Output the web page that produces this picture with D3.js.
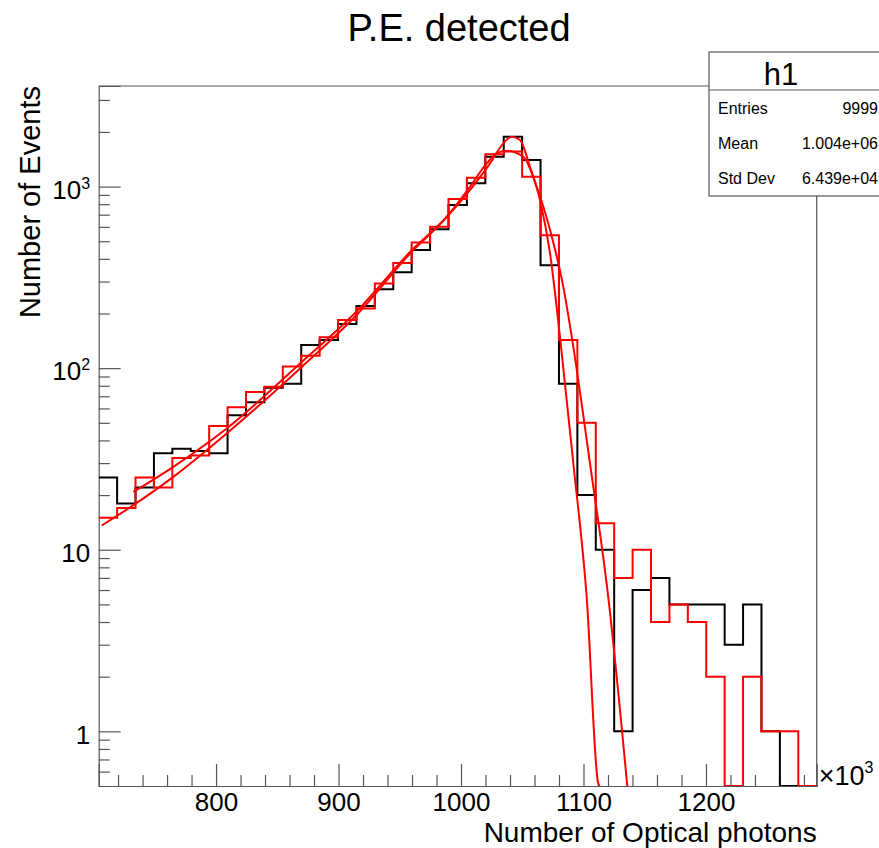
<!DOCTYPE html>
<html>
<head>
<meta charset="utf-8">
<script src="https://cdn.jsdelivr.net/npm/d3@7"></script>
<style>
  body { margin: 0; background: #fff; }
  svg { display: block; font-family: "Liberation Sans", Arial, Helvetica, sans-serif; }
</style>
</head>
<body>
<div id="chart"></div>
<script>
// --------------------------------------
//  Data (x in units of 10^3 photons)
// --------------------------------------

const xMin = 704.2;
const xMax = 1290.4;
const nBins = 39;

const blackCounts = [25, 18, 22, 34, 36, 35, 34, 55, 65, 78, 82, 134, 143, 175, 220, 272, 337, 447, 583, 791,
  1042, 1459, 1880, 1400, 369, 82, 20, 10, 1, 6, 7, 5, 5, 5, 3, 5, 1, 0, 0];
const redCounts = [15, 17, 25, 22, 32, 33, 48, 61, 74, 79, 102, 117, 148, 184, 213, 293, 380, 492, 601, 853,
  1120, 1507, 1560, 1132, 540, 143, 50, 14, 7, 10, 4, 5, 4, 2, 0, 2, 1, 1, 0];

// fit curves, points
const fitAx = [706.7, 732.5, 765.1, 808.7, 868.6, 915.9, 958.4, 988.3, 1007.3, 1021.0, 1029.1, 1037.3,
  1050.9, 1061.8, 1072.7, 1083.5, 1090.4, 1105.3, 1120.2, 1136.0];
const fitAy = [13.6, 17.6, 25.2, 43.7, 99.6, 200, 428, 682, 998, 1342, 1524, 1575,
  1459, 998, 576, 281, 149, 29.9, 5.5, 0.48];

const fitBx = [732.5, 765.1, 808.7, 868.6, 915.9, 958.4, 988.3, 1007.3, 1023.7, 1034.5, 1041.4, 1048.2,
  1056.3, 1064.5, 1072.7, 1080.8, 1091.7, 1102.6, 1112.1, 1118.0];
const fitBy = [20.8, 28.6, 46.5, 106, 209, 436, 679, 957, 1342, 1730, 1881, 1804,
  1285, 843, 428, 149, 29.9, 5.5, 0.515, 0.45];

const xMajorTicks = [800, 900, 1000, 1100, 1200];
const yMajorTicks = [1, 10, 100, 1000];
const yMin = 0.5;
const yMax = 3580;

const statsTitle = "h1";
const statsLabels = ["Entries", "Mean", "Std Dev"];
const statsValues = ["9999", "1.004e+06", "6.439e+04"];

// --------------------------------------
//  Margin and canvas
// --------------------------------------

const width = 879;
const height = 848;
const margin = {top: 86, right: 62.3, bottom: 62, left: 98.7};
const innerwidth = width - margin.left - margin.right;
const innerheight = height - margin.top - margin.bottom;

const svg = d3.select("#chart")
  .append("svg")
    .attr("width", width)
    .attr("height", height);

svg.append("rect").attr("width", width).attr("height", height).attr("fill", "#fff");

const innerChart = svg
  .append("g")
    .attr("transform", `translate(${margin.left}, ${margin.top})`);

svg.append("defs").append("clipPath")
    .attr("id", "frame-clip")
  .append("rect")
    .attr("width", innerwidth)
    .attr("height", innerheight);

// --------------------------------------
//  Scales
// --------------------------------------

const x = d3.scaleLinear()
    .domain([xMin, xMax])
    .range([0, innerwidth]);

const y = d3.scaleLog()
    .domain([yMin, yMax])
    .range([innerheight, 0]);

const binWidth = (xMax - xMin) / nBins;
const yc = v => v > yMin ? y(v) : y(yMin);

// --------------------------------------
//  Axes
// --------------------------------------

const axisColor = "#555";

const xMinorTicks = d3.range(720, xMax, 20).filter(v => !xMajorTicks.includes(v));
const yMinorTicks = [0.6, 0.7, 0.8, 0.9]
  .concat(d3.range(2, 10), d3.range(20, 100, 10), d3.range(200, 1000, 100), [2000, 3000]);

innerChart.append("g")
    .attr("class", "x-axis")
    .attr("transform", `translate(0, ${innerheight})`)
    .call(d3.axisBottom(x)
      .tickValues(xMajorTicks)
      .tickSize(-22)
      .tickPadding(7)
      .tickFormat(d3.format("d")));

innerChart.append("g")
    .attr("transform", `translate(0, ${innerheight})`)
    .call(d3.axisBottom(x)
      .tickValues(xMinorTicks)
      .tickSize(-11)
      .tickFormat(""))
    .call(g => g.select(".domain").remove());

const yAxis = innerChart.append("g")
    .attr("class", "y-axis")
    .call(d3.axisLeft(y)
      .tickValues(yMajorTicks)
      .tickSize(-22)
      .tickPadding(8)
      .tickFormat(d => d >= 100 ? "10" : String(d)));

innerChart.append("g")
    .call(d3.axisLeft(y)
      .tickValues(yMinorTicks)
      .tickSize(-11)
      .tickFormat(""))
    .call(g => g.select(".domain").remove());

// superscripts for 10^2, 10^3
yAxis.selectAll(".tick text")
    .attr("x", -8.5)
    .attr("dy", "0.45em")
    .each(function(d) {
      if (d >= 100) {
        d3.select(this).append("tspan")
          .attr("dy", "-0.62em")
          .attr("font-size", 16)
          .text(Math.round(Math.log10(d)));
      }
    });

innerChart.selectAll(".x-axis, .y-axis")
    .attr("font-size", 26)
    .attr("font-family", null);
innerChart.selectAll(".tick text").attr("fill", "#000");
innerChart.selectAll(".tick line, .domain").attr("stroke", axisColor).attr("stroke-width", 1.2);

// frame top and right
innerChart.append("path")
    .attr("d", `M0,0H${innerwidth}V${innerheight}`)
    .attr("fill", "none")
    .attr("stroke", axisColor)
    .attr("stroke-width", 1.2);

// --------------------------------------
//  Data drawing
// --------------------------------------

const plot = innerChart.append("g").attr("clip-path", "url(#frame-clip)");

const stepLine = d3.line()
    .x(d => x(d[0]))
    .y(d => yc(d[1]))
    .curve(d3.curveStepAfter);

const stepPoints = counts => counts
  .map((c, i) => [xMin + i * binWidth, c])
  .concat([[xMax, counts[counts.length - 1]]]);

plot.append("path")
    .attr("d", stepLine(stepPoints(blackCounts)))
    .attr("fill", "none")
    .attr("stroke", "#000")
    .attr("stroke-width", 2);

plot.append("path")
    .attr("d", stepLine(stepPoints(redCounts)))
    .attr("fill", "none")
    .attr("stroke", "#ff0000")
    .attr("stroke-width", 2);

const fitLine = d3.line()
    .x(d => x(d[0]))
    .y(d => y(d[1]))
    .curve(d3.curveMonotoneX);

[[fitAx, fitAy], [fitBx, fitBy]].forEach(([fx, fy]) => {
  plot.append("path")
      .attr("d", fitLine(fx.map((v, i) => [v, fy[i]])))
      .attr("fill", "none")
      .attr("stroke", "#ff0000")
      .attr("stroke-width", 2);
});

// --------------------------------------
//  Texts
// --------------------------------------

svg.append("text")
    .attr("x", 459)
    .attr("y", 41)
    .attr("text-anchor", "middle")
    .attr("font-size", 38)
    .text("P.E. detected");

svg.append("text")
    .attr("transform", `translate(40, ${margin.top}) rotate(-90)`)
    .attr("text-anchor", "end")
    .attr("font-size", 29)
    .text("Number of Events");

svg.append("text")
    .attr("x", margin.left + innerwidth)
    .attr("y", 842)
    .attr("text-anchor", "end")
    .attr("font-size", 28)
    .text("Number of Optical photons");

const expLabel = svg.append("text")
    .attr("x", margin.left + innerwidth + 2)
    .attr("y", 785)
    .attr("font-size", 27)
    .text("\u00d710");
expLabel.append("tspan")
    .attr("dy", -12)
    .attr("font-size", 16)
    .text("3");

// --------------------------------------
//  Stats box
// --------------------------------------

const stats = svg.append("g").attr("transform", "translate(709, 52)");

stats.append("rect")
    .attr("width", 200)
    .attr("height", 144)
    .attr("fill", "#fff")
    .attr("stroke", axisColor)
    .attr("stroke-width", 1.2);

stats.append("line")
    .attr("x1", 0).attr("x2", 200)
    .attr("y1", 38).attr("y2", 38)
    .attr("stroke", axisColor)
    .attr("stroke-width", 1.2);

stats.append("text")
    .attr("x", 72)
    .attr("y", 33)
    .attr("text-anchor", "middle")
    .attr("font-size", 31)
    .text(statsTitle);

statsLabels.forEach((label, i) => {
  stats.append("text")
      .attr("x", 9)
      .attr("y", 62 + i * 35)
      .attr("font-size", 16)
      .text(label);
  stats.append("text")
      .attr("x", 169)
      .attr("y", 62 + i * 35)
      .attr("text-anchor", "end")
      .attr("font-size", 16)
      .text(statsValues[i]);
});
</script>
</body>
</html>
